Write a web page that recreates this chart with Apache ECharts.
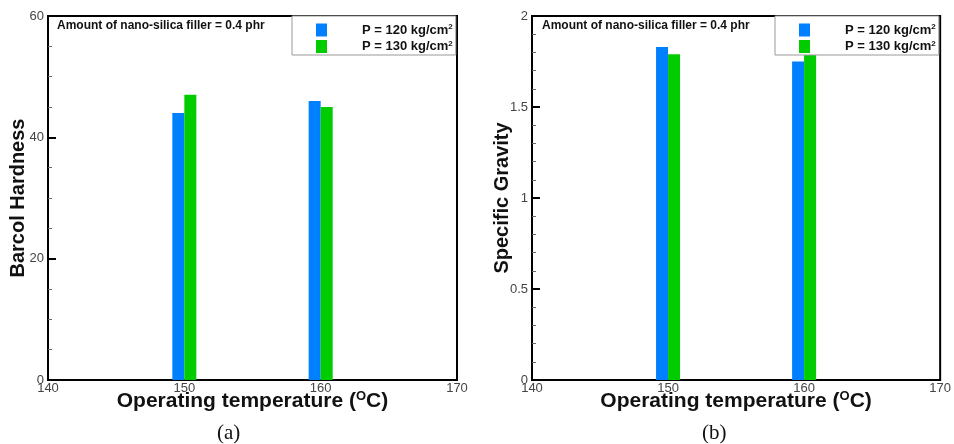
<!DOCTYPE html>
<html><head><meta charset="utf-8">
<script src="https://cdn.jsdelivr.net/npm/echarts@6/dist/echarts.min.js"></script>
<style>html,body{margin:0;padding:0;background:#fff}#c{width:954px;height:444px}</style>
</head><body><div id="c"></div>
<script>
var temps = [150, 160];
var hardness120 = [44, 46];
var hardness130 = [47, 45];
var sg120 = [1.83, 1.75];
var sg130 = [1.79, 1.80];
var seriesNames = ['P = 120 kg/cm', 'P = 130 kg/cm'];
var xTicks = [140, 150, 160, 170];
var annotation = 'Amount of nano-silica filler = 0.4 phr';

var BLUE = '#0080ff', GREEN = '#00cc00';
var FONT = 'Liberation Sans, Arial, sans-serif';

function pairs(xs, ys){ return xs.map(function(x,i){ return [x, ys[i]]; }); }

var chart = echarts.init(document.getElementById('c'));

function xAxisCfg(idx){
  return {
    gridIndex: idx, type: 'value', min: xTicks[0], max: xTicks[xTicks.length-1], interval: 10,
    name: '{t|Operating temperature (}{s|O}{t|C)}', nameLocation: 'middle', nameGap: 10,
    nameMoveOverlap: false,
    nameTextStyle: { rich: {
      t: {fontFamily: FONT, fontWeight: 'bold', fontSize: 21, color: '#111'},
      s: {fontFamily: FONT, fontWeight: 'bold', fontSize: 13, color: '#111', verticalAlign: 'top', padding:[0,0,10,0]}
    }},
    axisLine: {show: true, lineStyle: {color: '#000', width: 2}},
    axisTick: {show: false},
    splitLine: {show: false},
    axisLabel: {fontFamily: FONT, fontSize: 13, color: '#444', margin: 2}
  };
}
function yAxisCfg(idx, name, max, interval, split){
  return {
    gridIndex: idx, type: 'value', min: 0, max: max, interval: interval,
    name: name, nameLocation: 'middle', nameGap: 20, nameMoveOverlap: false,
    nameTextStyle: {fontFamily: FONT, fontWeight: 'bold', fontSize: 20, color: '#111'},
    axisLine: {show: true, lineStyle: {color: '#000', width: 2}},
    axisTick: {show: true, inside: true, length: 8, lineStyle: {color: '#000', width: 2}},
    minorTick: {show: true, splitNumber: split, length: 4, lineStyle: {color: '#666', width: 1}},
    splitLine: {show: false},
    axisLabel: {fontFamily: FONT, fontSize: 13, color: '#444', margin: 4}
  };
}
var legendRich = {
  n: {fontFamily: FONT, fontWeight: 'bold', fontSize: 13, color: '#111'},
  s: {fontFamily: FONT, fontWeight: 'bold', fontSize: 8, color: '#111', verticalAlign: 'top', padding:[0,0,6,0]}
};
function legendCfg(left, names){
  return {
    data: names, orient: 'vertical', left: left, top: 16,
    backgroundColor: '#fff', borderColor: '#999', borderWidth: 1,
    padding: [7, 3, 2, 24], itemGap: 3, itemWidth: 11, itemHeight: 13, icon: 'rect',
    formatter: function(n){ return '{n|' + n.slice(0, -2) + '}{s|2}'; },
    textStyle: {padding: [0, 0, 0, 30], rich: legendRich}
  };
}
function barSeries(xi, data, color, legendName){
  return {
    name: legendName, type: 'bar', xAxisIndex: xi, yAxisIndex: xi,
    data: data, barWidth: 12, barGap: '0%', itemStyle: {color: color}
  };
}
var namesA = [seriesNames[0] + ' a', seriesNames[1] + ' a'];
var namesB = [seriesNames[0] + ' b', seriesNames[1] + ' b'];

chart.setOption({
  animation: false,
  grid: [
    {left: 48, right: 497, top: 16, bottom: 64, show: true, borderColor: '#000', borderWidth: 2, backgroundColor: 'transparent'},
    {left: 532, right: 13, top: 16, bottom: 64, show: true, borderColor: '#000', borderWidth: 2, backgroundColor: 'transparent'}
  ],
  xAxis: [xAxisCfg(0), xAxisCfg(1)],
  yAxis: [yAxisCfg(0, 'Barcol Hardness', 60, 20, 4), yAxisCfg(1, 'Specific Gravity', 2, 0.5, 5)],
  legend: [legendCfg(292, namesA), legendCfg(775, namesB)],
  series: [
    barSeries(0, pairs(temps, hardness120), BLUE, namesA[0]),
    barSeries(0, pairs(temps, hardness130), GREEN, namesA[1]),
    barSeries(1, pairs(temps, sg120), BLUE, namesB[0]),
    barSeries(1, pairs(temps, sg130), GREEN, namesB[1])
  ],
  graphic: [
    {type: 'text', left: 57, top: 20, style: {text: annotation, font: 'bold 12px ' + FONT, fill: '#111'}},
    {type: 'text', left: 542, top: 20, style: {text: annotation, font: 'bold 12px ' + FONT, fill: '#111'}},
    {type: 'text', left: 217, top: 423, style: {text: '(a)', font: '21px "Liberation Serif", serif', fill: '#111'}},
    {type: 'text', left: 702, top: 423, style: {text: '(b)', font: '21px "Liberation Serif", serif', fill: '#111'}}
  ]
});
</script>
</body></html>
